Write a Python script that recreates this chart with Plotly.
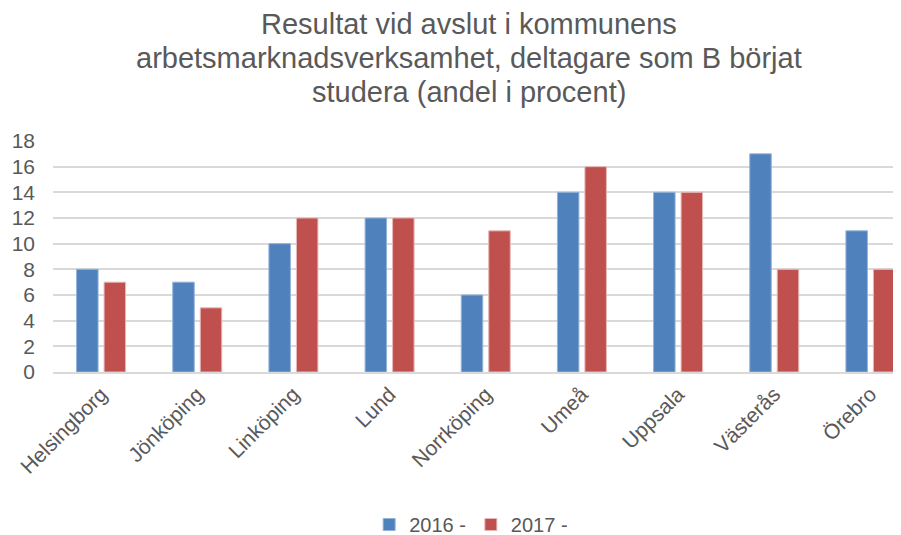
import plotly.graph_objects as go

categories = ["Helsingborg", "Jönköping", "Linköping", "Lund", "Norrköping",
              "Umeå", "Uppsala", "Västerås", "Örebro"]
values_2016 = [8, 7, 10, 12, 6, 14, 14, 17, 11]
values_2017 = [7, 5, 12, 12, 11, 16, 14, 8, 8]
series_names = ["2016 -", "2017 -"]
y_ticks = [0, 2, 4, 6, 8, 10, 12, 14, 16, 18]
title_lines = ["Resultat vid avslut i kommunens",
               "arbetsmarknadsverksamhet, deltagare som B börjat",
               "studera (andel i procent)"]

# page body has an 8px default margin -> work in shifted coordinates
OFF = 8
W, H = 901 - OFF, 535 - OFF
plot_left, plot_right = 52.7 - OFF, 901 - OFF
plot_top, plot_bottom = 141 - OFF, 371.7 - OFF
slot = 96.2
x_max = -0.5 + (plot_right - plot_left) / slot
ph = plot_bottom - plot_top
pw = plot_right - plot_left

def py(y):  # figure pixel y -> paper y
    return (plot_bottom - y) / ph

def px(x):
    return (x - plot_left) / pw

fig = go.Figure()
fig.add_trace(go.Bar(x=categories, y=values_2016, name=series_names[0],
                     marker=dict(color="#4F81BD", line=dict(color="#95B3D7", width=1))))
fig.add_trace(go.Bar(x=categories, y=values_2017, name=series_names[1],
                     marker=dict(color="#C0504D", line=dict(color="#E6B9B8", width=1))))

font = "Liberation Sans, Arial, sans-serif"
title_centers = [24 - OFF, 58 - OFF, 92 - OFF]
annotations = [dict(text=t, x=px(468.5 - OFF), xref="paper", xanchor="center",
                    y=py(yc), yref="paper", yanchor="middle", showarrow=False,
                    font=dict(size=29, color="#595959", family=font))
               for t, yc in zip(title_lines, title_centers)]

fig.update_layout(
    width=W, height=H,
    margin=dict(l=plot_left, r=W - plot_right, t=plot_top, b=H - plot_bottom, autoexpand=False),
    paper_bgcolor="white", plot_bgcolor="white",
    font=dict(family=font, color="#595959", size=18),
    annotations=annotations,
    barmode="group", bargap=0.428, bargroupgap=0.218,
    legend=dict(orientation="h", x=px(471 - OFF), xanchor="center",
                y=py(524 - OFF), yanchor="middle",
                font=dict(size=20, color="#595959"), traceorder="normal"),
    showlegend=True,
)
fig.update_xaxes(range=[-0.5, x_max], tickangle=-45, showgrid=False,
                 showline=True, linecolor="#D9D9D9", linewidth=1.5,
                 ticks="", tickfont=dict(size=21, color="#595959"))
fig.update_yaxes(range=[0, 18], tickvals=y_ticks, showgrid=True, gridcolor="#D9D9D9", gridwidth=1.5,
                 zeroline=False, showline=False, ticks="", ticklabelstandoff=17,
                 tickfont=dict(size=21, color="#595959"))

fig.write_html("out.html")
